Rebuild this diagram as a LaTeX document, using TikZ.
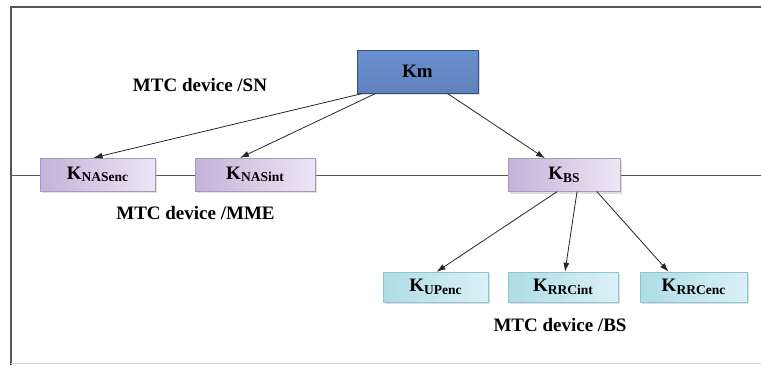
\documentclass[tikz,border=0pt]{standalone}
\usepackage{fontspec}
\setmainfont{Liberation Serif}
\usetikzlibrary{shadows,arrows.meta}

\definecolor{kmblue}{HTML}{6A90D0}
\definecolor{kmlight}{HTML}{9AB8E6}
\definecolor{kmedge}{HTML}{34507F}
\definecolor{nasdark}{HTML}{C3B2DA}
\definecolor{naslight}{HTML}{ECE6F4}
\definecolor{nasedge}{HTML}{A898C0}
\definecolor{rrcdark}{HTML}{AEDCE7}
\definecolor{rrclight}{HTML}{DAF1F6}
\definecolor{rrcedge}{HTML}{8CC4D2}
\definecolor{framegray}{HTML}{555555}

\begin{document}
\begin{tikzpicture}[x=1pt, y=-1pt, >={Latex[length=9pt,width=6pt]},
  font=\bfseries\fontsize{19}{19}\selectfont,
  keybox/.style={inner sep=0pt,
    drop shadow={opacity=0.25, shadow xshift=2pt, shadow yshift=-2pt}},
  topbox/.style={keybox, draw=kmedge, line width=1pt,
    top color=kmblue, middle color=kmlight, bottom color=kmblue!90!black},
  midbox/.style={keybox, draw=nasedge, minimum height=33pt,
    left color=nasdark, right color=naslight},
  lowbox/.style={keybox, draw=rrcedge, minimum height=30pt,
    left color=rrcdark, right color=rrclight},
  keyarrow/.style={->, line width=0.8pt, black!85}]

\newcommand\kname[1]{{\fontsize{19}{19}\selectfont K}%
\raisebox{-2.5pt}{\fontsize{13.5}{13.5}\selectfont #1}}

\useasboundingbox (0,0) rectangle (761,365);

%% frame
\draw[framegray, line width=1.2pt] (761,7) -- (11,7) -- (11,365);
\draw[black!15] (11,363.5) -- (761,363.5);

\coordinate (lineL) at (11,175);
\coordinate (lineR) at (761,175);
\draw[framegray, line width=0.8pt] (lineL) -- (lineR);

\node[topbox, minimum width=121pt, minimum height=43pt] (km)
  at (417.5,71.5) {Km};

\node[midbox, minimum width=115pt] (nasenc) at (97.5,174.5) {\kname{NASenc}};
\node[midbox, minimum width=120pt] (nasint) at (255,174.5) {\kname{NASint}};
\node[midbox, minimum width=112pt] (kbs) at (564,175) {\kname{BS}};

\node[lowbox, minimum width=105pt] (upenc) at (435.5,287) {\kname{UPenc}};
\node[lowbox, minimum width=110pt] (rrcint) at (563,287) {\kname{RRCint}};
\node[lowbox, minimum width=107pt] (rrcenc) at (693.5,287) {\kname{RRCenc}};

%% labels
\node (sn) at (200,85) {MTC device /SN};
\node (mme) at (195.5,213) {MTC device /MME};
\node (bs) at (560,325) {MTC device /BS};

%% arrows
\draw[keyarrow] ([xshift=-55pt]km.south) -- ([xshift=-4pt]nasenc.north);
\draw[keyarrow] ([xshift=-42pt]km.south) -- ([xshift=-15pt]nasint.north);
\draw[keyarrow] ([xshift=30pt]km.south) -- ([xshift=-19pt]kbs.north);

\draw[keyarrow] ([xshift=-7pt]kbs.south) -- ([xshift=1pt]upenc.north);
\draw[keyarrow] ([xshift=13pt]kbs.south) -- ([xshift=2pt]rrcint.north);
\draw[keyarrow] ([xshift=33pt]kbs.south) -- ([xshift=-25pt]rrcenc.north);

\end{tikzpicture}
\end{document}
